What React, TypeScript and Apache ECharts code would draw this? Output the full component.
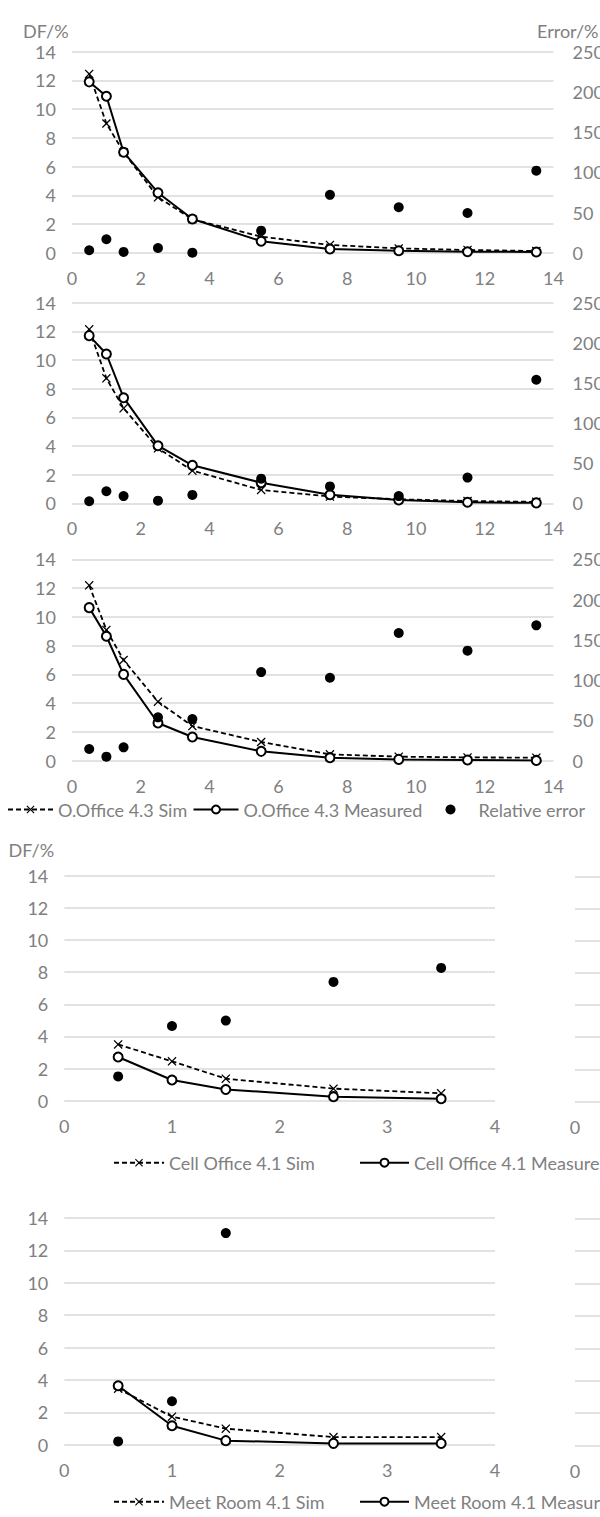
import React, { useEffect, useRef } from "react";
import * as echarts from "echarts";

// ---------- data ----------
const xLong = [0.5, 1, 1.5, 2.5, 3.5, 5.5, 7.5, 9.5, 11.5, 13.5];
const xShort = [0.5, 1, 1.5, 2.5, 3.5];
const xMeetErr = [0.5, 1, 1.5];

const p1Sim = [12.45, 9.0, 7.0, 3.86, 2.33, 1.12, 0.54, 0.3, 0.19, 0.12];
const p1Meas = [11.9, 10.9, 7.0, 4.18, 2.35, 0.8, 0.26, 0.14, 0.07, 0.05];
const p1Err = [3, 16.7, 1, 5.8, 0, 27.4, 72, 56.5, 49.4, 102];

const p2Sim = [12.14, 8.72, 6.63, 3.84, 2.28, 0.93, 0.47, 0.28, 0.16, 0.1];
const p2Meas = [11.7, 10.42, 7.37, 4.02, 2.65, 1.44, 0.6, 0.23, 0.07, 0.03];
const p2Err = [2.5, 15, 9, 3.3, 10.4, 30.7, 21, 9, 32, 154];

const p3Sim = [12.19, 9.09, 7.0, 4.1, 2.41, 1.3, 0.44, 0.28, 0.23, 0.21];
const p3Meas = [10.64, 8.65, 6.0, 2.62, 1.65, 0.65, 0.21, 0.09, 0.05, 0.02];
const p3Err = [14.5, 5, 16.6, 53.8, 51.7, 110, 103, 158.5, 136.6, 168];

const cellSim = [3.5, 2.45, 1.37, 0.75, 0.46];
const cellMeas = [2.72, 1.29, 0.7, 0.25, 0.12];
const cellErr = [27, 83, 89, 132, 147.5];

const meetSim = [3.46, 1.73, 0.99, 0.47, 0.47];
const meetMeas = [3.64, 1.17, 0.25, 0.08, 0.08];
const meetErr = [3.6, 47.9, 233.4];

const NAME_OS = "O.Office 4.3 Sim";
const NAME_OM = "O.Office 4.3 Measured";
const NAME_ERR = "Relative error";
const NAME_CS = "Cell Office 4.1 Sim";
const NAME_CM = "Cell Office 4.1 Measured";
const NAME_MS = "Meet Room 4.1 Sim";
const NAME_MM = "Meet Room 4.1 Measured";

// ---------- styles ----------
const FONT = "Lato, 'Open Sans', sans-serif";
const GRAY = "#808080";
const GRID_COLOR = "#d9d9d9";
const XSYM =
  "path://M0,1 L1,0 L5,4 L9,0 L10,1 L6,5 L10,9 L9,10 L5,6 L1,10 L0,9 L4,5 Z";

const zip = (xs: number[], ys: number[]) => ys.map((y, i) => [xs[i], y]);

const grids = [
  { left: 72, top: 51.7, width: 481.5, height: 201 },
  { left: 72, top: 302.7, width: 481.5, height: 200.6 },
  { left: 72, top: 559.3, width: 481.5, height: 201.4 },
  { left: 64.3, top: 875.7, width: 430.7, height: 225 },
  { left: 64.3, top: 1218, width: 430.7, height: 226.7 },
  { left: 575, top: 876.5, width: 430.7, height: 225 },
  { left: 575, top: 1218.8, width: 430.7, height: 226.7 },
].map((g) => ({ ...g, outerBoundsMode: "none", containLabel: false }));

const labelStyle = { color: GRAY, fontSize: 18, fontFamily: FONT };

function xAxis(gridIndex: number, max: number, interval: number, onlyZero = false) {
  return {
    type: "value",
    gridIndex,
    min: 0,
    max,
    interval,
    axisLine: { show: false },
    axisTick: { show: false },
    splitLine: { show: false },
    axisLabel: {
      ...labelStyle,
      margin: 16,
      formatter: onlyZero ? (v: number) => (v === 0 ? "0" : "") : undefined,
    },
  };
}

function leftY(gridIndex: number, showLabel = true) {
  return {
    type: "value",
    gridIndex,
    min: 0,
    max: 14,
    interval: 2,
    axisLine: { show: false },
    axisTick: { show: false },
    axisLabel: { ...labelStyle, margin: 16, show: showLabel },
    splitLine: { lineStyle: { color: GRID_COLOR, width: 1.6 } },
  };
}

function rightY(gridIndex: number, showLabel: boolean) {
  return {
    type: "value",
    gridIndex,
    position: "right",
    min: 0,
    max: 250,
    interval: 50,
    axisLine: { show: false },
    axisTick: { show: false },
    axisLabel: { ...labelStyle, margin: 19, show: showLabel },
    splitLine: { show: false },
  };
}

function simSeries(name: string, idx: number, xs: number[], ys: number[]) {
  return {
    type: "line",
    name,
    xAxisIndex: idx,
    yAxisIndex: idx * 2,
    data: zip(xs, ys),
    symbol: XSYM,
    symbolSize: 9,
    lineStyle: { color: "#000", width: 1.8, type: [5, 3] },
    itemStyle: { color: "#000", opacity: 1 },
    z: 3,
  };
}

function measSeries(name: string, idx: number, xs: number[], ys: number[]) {
  return {
    type: "line",
    name,
    xAxisIndex: idx,
    yAxisIndex: idx * 2,
    data: zip(xs, ys),
    symbol: "circle",
    symbolSize: 9,
    lineStyle: { color: "#000", width: 2 },
    itemStyle: { color: "#fff", borderColor: "#000", borderWidth: 2, opacity: 1 },
    z: 4,
  };
}

function errSeries(name: string, idx: number, xs: number[], ys: number[]) {
  return {
    type: "scatter",
    name,
    xAxisIndex: idx,
    yAxisIndex: idx * 2 + 1,
    data: zip(xs, ys),
    symbol: "circle",
    symbolSize: 10,
    itemStyle: { color: "#000", opacity: 1 },
    z: 5,
  };
}

function legend(name: string, pos: { left?: number; right?: number }, top: number, itemWidth: number) {
  return {
    data: [name],
    ...pos,
    top,
    itemWidth,
    itemHeight: 10,
    padding: 0,
    selectedMode: false,
    textStyle: { color: GRAY, fontSize: 18, fontFamily: FONT, lineHeight: 20 },
  };
}

export default function App() {
  const ref = useRef<HTMLDivElement>(null);

  useEffect(() => {
    if (!ref.current) return;
    const chart = echarts.init(ref.current, undefined, { renderer: "svg" });

    const titleStyle = { fontSize: 18, fontFamily: FONT, fill: GRAY, align: "left", verticalAlign: "middle" };

    const option = {
      animation: false,
      backgroundColor: "#fff",
      grid: grids,
      xAxis: [
        xAxis(0, 14, 2),
        xAxis(1, 14, 2),
        xAxis(2, 14, 2),
        xAxis(3, 4, 1),
        xAxis(4, 4, 1),
        xAxis(5, 4, 1, true),
        xAxis(6, 4, 1, true),
      ],
      yAxis: [
        leftY(0),
        rightY(0, true),
        leftY(1),
        rightY(1, true),
        leftY(2),
        rightY(2, true),
        leftY(3),
        rightY(3, false),
        leftY(4),
        rightY(4, false),
        leftY(5, false),
        leftY(6, false),
      ],
      legend: [
        legend(NAME_OS, { left: 7 }, 799.5, 45),
        legend(NAME_OM, { left: 192.5 }, 799.5, 45),
        legend(NAME_ERR, { right: 15 }, 799.5, 46),
        legend(NAME_CS, { left: 113 }, 1152.7, 50),
        legend(NAME_CM, { left: 359 }, 1152.7, 49),
        legend(NAME_MS, { left: 113 }, 1491.7, 50),
        legend(NAME_MM, { left: 359 }, 1491.7, 49),
      ],
      graphic: [
        { type: "text", x: 23, y: 30.7, style: { text: "DF/%", ...titleStyle } },
        { type: "text", x: 537, y: 30.7, style: { text: "Error/%", ...titleStyle } },
        { type: "text", x: 8.5, y: 850, style: { text: "DF/%", ...titleStyle } },
      ],
      series: [
        simSeries(NAME_OS, 0, xLong, p1Sim),
        measSeries(NAME_OM, 0, xLong, p1Meas),
        errSeries(NAME_ERR, 0, xLong, p1Err),
        simSeries(NAME_OS, 1, xLong, p2Sim),
        measSeries(NAME_OM, 1, xLong, p2Meas),
        errSeries(NAME_ERR, 1, xLong, p2Err),
        simSeries(NAME_OS, 2, xLong, p3Sim),
        measSeries(NAME_OM, 2, xLong, p3Meas),
        errSeries(NAME_ERR, 2, xLong, p3Err),
        simSeries(NAME_CS, 3, xShort, cellSim),
        measSeries(NAME_CM, 3, xShort, cellMeas),
        errSeries("Cell Office relative error", 3, xShort, cellErr),
        simSeries(NAME_MS, 4, xShort, meetSim),
        measSeries(NAME_MM, 4, xShort, meetMeas),
        errSeries("Meet Room relative error", 4, xMeetErr, meetErr),
      ],
    };

    chart.setOption(option as any);
    return () => chart.dispose();
  }, []);

  return (
    <div
      ref={ref}
      style={{ position: "absolute", left: 0, top: 0, width: 600, height: 1517, overflow: "hidden" }}
    />
  );
}
